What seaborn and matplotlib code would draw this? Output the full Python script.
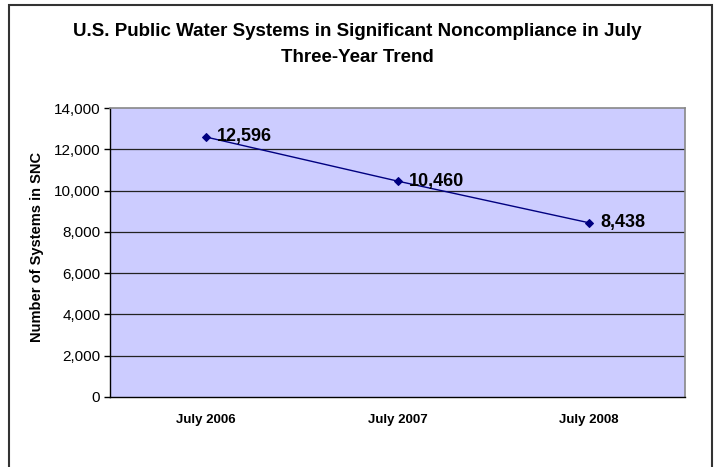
import matplotlib
matplotlib.use("Agg")
import matplotlib.pyplot as plt
import matplotlib.ticker as mticker
from matplotlib.patches import Rectangle
import pandas as pd
import seaborn as sns

sns.set_theme(style="white")
plt.rcParams["font.family"] = ["Liberation Sans", "DejaVu Sans"]
plt.rcParams["text.color"] = "black"
plt.rcParams["axes.labelcolor"] = "black"
plt.rcParams["xtick.color"] = "black"
plt.rcParams["ytick.color"] = "black"

# Data
months = ["July 2006", "July 2007", "July 2008"]
systems_in_snc = [12596, 10460, 8438]
y_ticks = [0, 2000, 4000, 6000, 8000, 10000, 12000, 14000]

df = pd.DataFrame({"month": months, "count": systems_in_snc})

fig = plt.figure(figsize=(7.17, 4.67), dpi=100)
ax = fig.add_axes([110 / 717, 1 - 397 / 467, 575 / 717, 289 / 467])
ax.set_facecolor("#CCCCFF")

# horizontal gridlines
for t in y_ticks[1:-1]:
    ax.axhline(t, color="#222222", linewidth=0.9, zorder=1)

sns.lineplot(data=df, x="month", y="count", ax=ax, color="#000080",
             marker="D", markersize=4, markeredgecolor="#000080",
             linewidth=1, sort=False, zorder=3)

for i, (m, v) in enumerate(zip(months, systems_in_snc)):
    ax.annotate(f"{v:,}", xy=(i, v), xytext=(11, 0), textcoords="offset pixels",
                ha="left", va="center", fontsize=13, fontweight="bold", color="black")

ax.set_xlim(-0.5, len(months) - 0.5)
ax.set_ylim(0, 14000)
ax.set_yticks(y_ticks)
ax.yaxis.set_major_formatter(mticker.FuncFormatter(lambda v, p: f"{int(v):,}"))
ax.set_xticks(range(len(months)))
ax.set_xticklabels(months, fontsize=9.5, fontweight="bold")
ax.set_xticks([i - 0.5 for i in range(len(months) + 1)], minor=True)
ax.tick_params(axis="x", which="major", length=0, pad=12)
ax.tick_params(axis="x", which="minor", length=5, width=1, color="black", direction="out")
ax.tick_params(axis="y", length=4, width=1, color="black", direction="out", labelsize=11, pad=3, left=True)

ax.set_xlabel("")
ax.set_ylabel("Number of Systems in SNC", fontsize=10.5, fontweight="bold", labelpad=8)
ax.yaxis.set_label_coords(-0.114, 0.52)

for side in ["top", "right"]:
    ax.spines[side].set_color("#888888")
    ax.spines[side].set_linewidth(1.2)
for side in ["left", "bottom"]:
    ax.spines[side].set_color("black")
    ax.spines[side].set_linewidth(1)

fig.text(357 / 717, 1 - 31 / 467, "U.S. Public Water Systems in Significant Noncompliance in July",
         ha="center", va="center", fontsize=13.5, fontweight="bold")
fig.text(357 / 717, 1 - 57 / 467, "Three-Year Trend",
         ha="center", va="center", fontsize=13.5, fontweight="bold")

# outer chart border
fig.patches.append(Rectangle((9 / 717, -0.1), 703 / 717, 1.1 - 5 / 467,
                             transform=fig.transFigure, fill=False,
                             edgecolor="#333333", linewidth=1.5, clip_on=False))

fig.savefig("out.png", dpi=100)
